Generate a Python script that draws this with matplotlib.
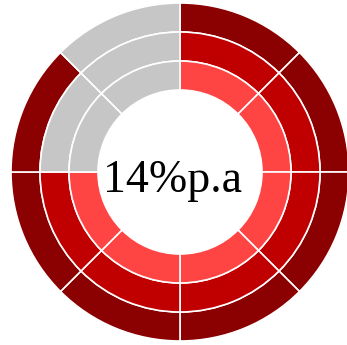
#!/usr/bin/env python3
"""Concentric ring progress chart with a centre label."""

import matplotlib
matplotlib.use("Agg")
import matplotlib.pyplot as plt
from matplotlib.patches import Wedge

# Data: each ring is split into 8 equal segments, filled clockwise from the top
rings = ["outer", "middle", "inner"]
segments_total = 8
segments_filled = [7, 6, 6]
ring_colors = ["#8b0000", "#c00000", "#ff4444"]
empty_color = "#c6c6c6"
label = "14%p.a"

# Geometry in pixels (figure is 347x345, axes cover it 1:1)
W, H = 347, 345
cx, cy = 180, H - 172
radii = [169, 140, 111, 82]  # outer edge of each ring, then the hole


fig = plt.figure(figsize=(W / 100, H / 100), dpi=100)
ax = fig.add_axes([0, 0, 1, 1])
ax.set_xlim(0, W)
ax.set_ylim(0, H)
ax.axis("off")

step = 360 / segments_total
for i, name in enumerate(rings):
    r_out, r_in = radii[i], radii[i + 1]
    for k in range(segments_total):
        # segment k runs clockwise from 12 o'clock
        t2 = 90 - k * step
        t1 = t2 - step
        color = ring_colors[i] if k < segments_filled[i] else empty_color
        ax.add_patch(Wedge((cx, cy), r_out, t1, t2, width=r_out - r_in,
                           facecolor=color, edgecolor="white", linewidth=1.2))

ax.text(172.5, H - 192, label, ha="center", va="baseline",
        fontsize=33, family="Liberation Serif", color="black")

fig.savefig("out.png", dpi=100)
